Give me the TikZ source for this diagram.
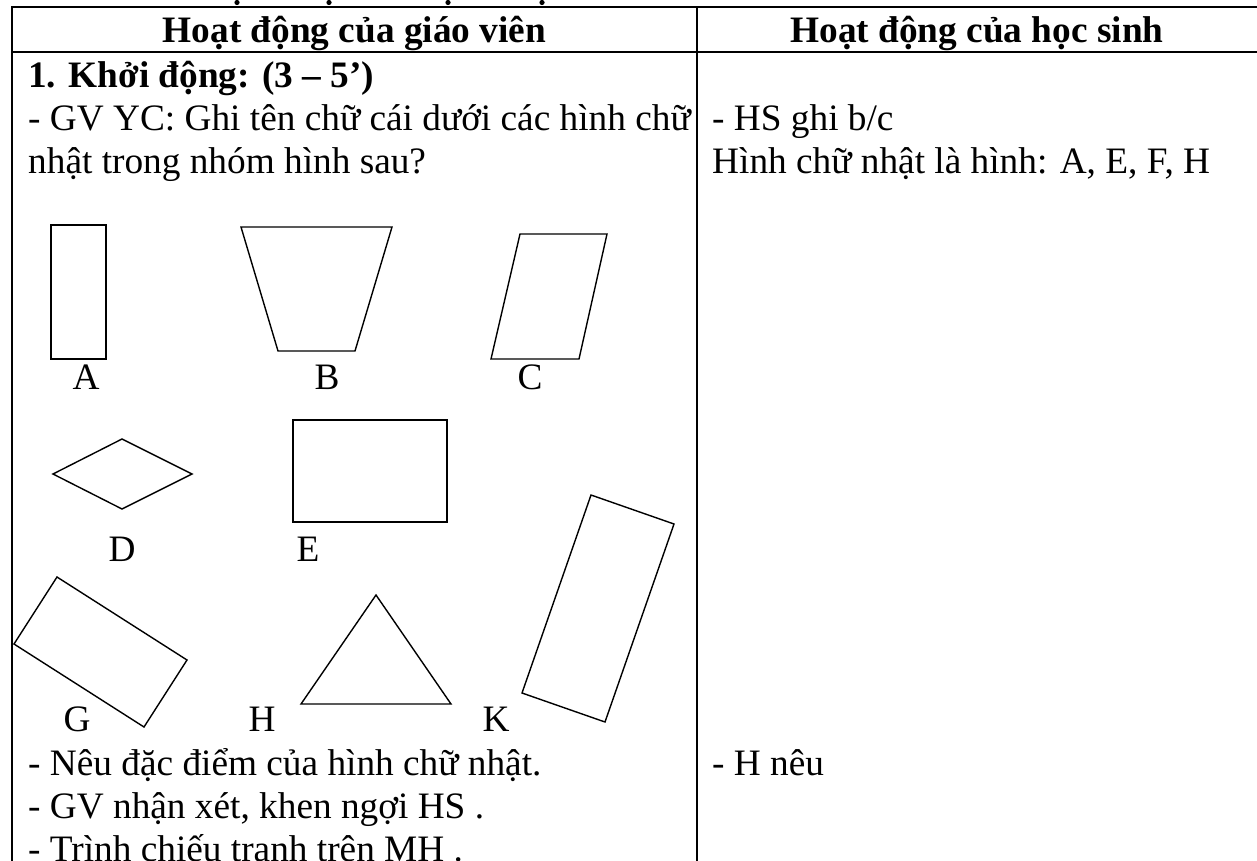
\documentclass[tikz,border=0pt]{standalone}
\usepackage{fontspec}
\setmainfont{Liberation Serif}
\begin{document}
\begin{tikzpicture}[x=1pt,y=-1pt,
  tbl/.style={line width=2.3pt},
  shp/.style={line width=1.4pt, line join=miter},
  txt/.style={anchor=base west, inner sep=0pt, font=\fontsize{37.3}{43}\selectfont},
  hdr/.style={anchor=base, inner sep=0pt, font=\fontsize{37.3}{43}\selectfont\bfseries},
  lbl/.style={anchor=base, inner sep=0pt, font=\fontsize{37.3}{43}\selectfont}]
\useasboundingbox (0,0) rectangle (1257,861);
% cut-off marks of the line above the table
\foreach \px/\nm in {237/d1,329/d2,448/d3,542/d4}
  \fill (\px,2.5) circle (2.6pt) coordinate (\nm);
% table
\coordinate (tl) at (12,7);
\coordinate (tr) at (1257,7);
\coordinate (hl) at (12,52);
\coordinate (hr) at (1257,52);
\coordinate (bl) at (12,861);
\coordinate (mt) at (697,7);
\coordinate (mb) at (697,861);
\draw[tbl] (tr) -- (tl) -- (bl);
\draw[tbl] (hl) -- (hr);
\draw[tbl] (mt) -- (mb);
% headers
\node[hdr] (h1) at (354.5,43) {Hoạt động của giáo viên};
\node[hdr] (h2) at (977,43) {Hoạt động của học sinh};
% left column text
\node[txt,font=\fontsize{37.3}{43}\selectfont\bfseries] (t1) at (28,88) {1. Khởi động: (3 – 5’)};
\node[txt] (t2) at (28,131) {- GV YC: Ghi tên chữ cái dưới các hình chữ};
\node[txt] (t3) at (28,174) {nhật trong nhóm hình sau?};
\node[txt] (t4) at (28,775) {- Nêu đặc điểm của hình chữ nhật.};
\node[txt] (t5) at (28,818) {- GV nhận xét, khen ngợi HS .};
\node[txt] (t6) at (28,861) {- Trình chiếu tranh trên MH .};
% right column text
\node[txt] (r1) at (712,131) {- HS ghi b/c};
\node[txt] (r2) at (712,174) {Hình chữ nhật là hình: A, E, F, H};
\node[txt] (r3) at (712,775) {- H nêu};
% shapes
\draw[shp] (51,225) rectangle (106,359);
\draw[shp] (241,227) -- (392,227) -- (355,351) -- (278,351) -- cycle;
\draw[shp] (520,234) -- (607,234) -- (579,359) -- (491,359) -- cycle;
\draw[shp] (53,474) -- (122,439) -- (192,474) -- (122,509) -- cycle;
\draw[shp] (293,420) rectangle (447,522);
\draw[shp] (57,577) -- (187,660) -- (144,727) -- (14,644) -- cycle;
\draw[shp] (376,595) -- (451,704) -- (301,704) -- cycle;
\draw[shp] (591,495) -- (674,524) -- (605,722) -- (522,693) -- cycle;
% labels
\node[lbl] (la) at (86,389) {A};
\node[lbl] (lb) at (327,389) {B};
\node[lbl] (lc) at (530,389) {C};
\node[lbl] (ld) at (122,561) {D};
\node[lbl] (le) at (308,561) {E};
\node[lbl] (lg) at (77,731) {G};
\node[lbl] (lh) at (262,731) {H};
\node[lbl] (lk) at (496,731) {K};
\end{tikzpicture}
\end{document}
